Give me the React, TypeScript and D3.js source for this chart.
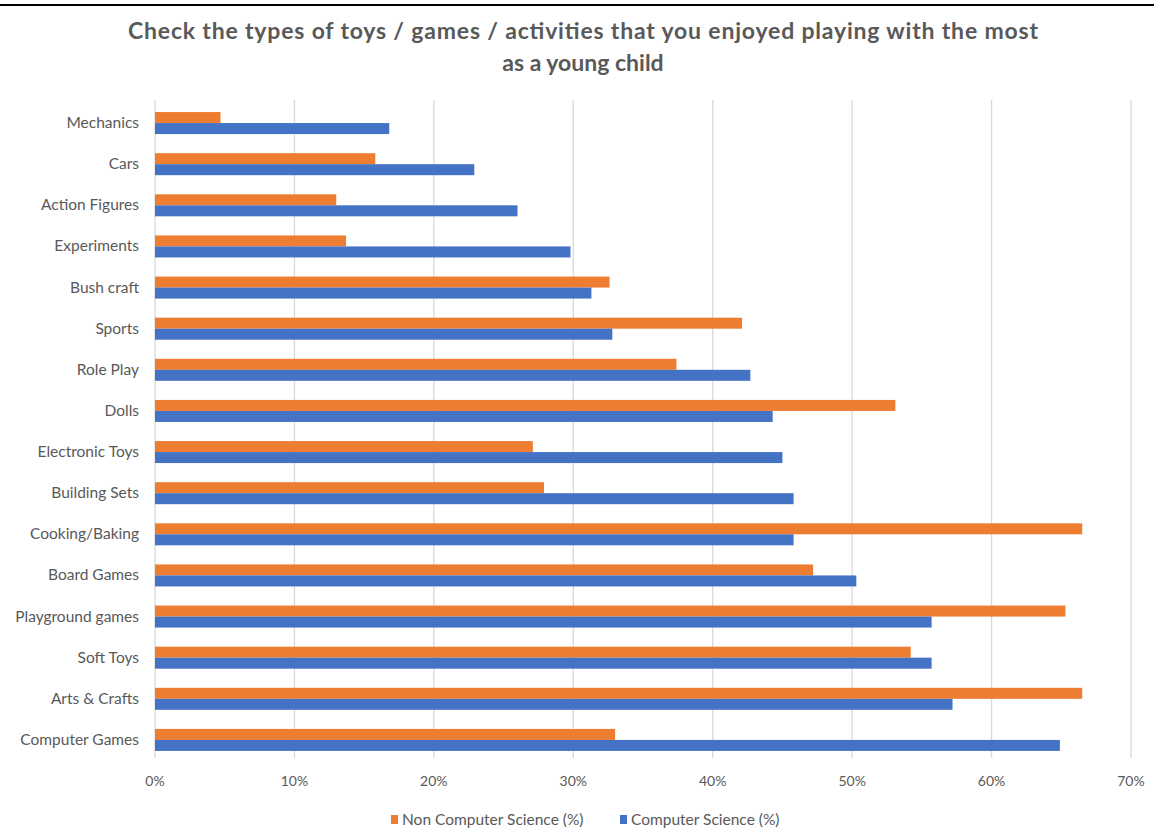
import React from "react";
import * as d3 from "d3";

const categories = [
  "Mechanics",
  "Cars",
  "Action Figures",
  "Experiments",
  "Bush craft",
  "Sports",
  "Role Play",
  "Dolls",
  "Electronic Toys",
  "Building Sets",
  "Cooking/Baking",
  "Board Games",
  "Playground games",
  "Soft Toys",
  "Arts & Crafts",
  "Computer Games",
];
const nonCS = [4.7, 15.8, 13.0, 13.7, 32.6, 42.1, 37.4, 53.1, 27.1, 27.9, 66.5, 47.2, 65.3, 54.2, 66.5, 33.0];
const cs = [16.8, 22.9, 26.0, 29.8, 31.3, 32.8, 42.7, 44.3, 45.0, 45.8, 45.8, 50.3, 55.7, 55.7, 57.2, 64.9];
const xTicks = [0, 10, 20, 30, 40, 50, 60, 70];
const seriesNames = ["Non Computer Science (%)", "Computer Science (%)"];
const colors = ["#ED7D31", "#4472C4"];
const titleLines = [
  "Check the types of toys / games / activities that you enjoyed playing with the most",
  "as a young child",
];

export default function App() {
  const W = 1154;
  const H = 828;
  const left = 155;
  const right = 1131;
  const top = 102.5;
  const bottom = 760.5;
  const x = d3.scaleLinear().domain([0, 70]).range([left, right]);
  const y = d3.scaleBand().domain(categories).range([top, bottom]);
  const barH = 11;
  const font = "Lato, 'Open Sans', sans-serif";
  const textColor = "#595959";

  return (
    <svg
      width={W}
      height={H}
      style={{ position: "absolute", left: 0, top: 0, background: "#fff" }}
      fontFamily={font}
    >
      <rect x={0} y={0} width={W} height={H} fill="#fff" />
      <line x1={0} x2={W} y1={5} y2={5} stroke="#000" strokeWidth={2} />
      <text
        x={583}
        y={39}
        textAnchor="middle"
        fontSize={23}
        fontWeight="bold"
        fill={textColor}
        textLength={910}
        lengthAdjust="spacing"
      >
        {titleLines[0]}
      </text>
      <text
        x={583}
        y={71}
        textAnchor="middle"
        fontSize={23}
        fontWeight="bold"
        fill={textColor}
      >
        {titleLines[1]}
      </text>
      {xTicks.map((t) => (
        <g key={t}>
          <line
            x1={x(t)}
            x2={x(t)}
            y1={100}
            y2={758}
            stroke="#d9d9d9"
            strokeWidth={1.3}
          />
          <text
            x={x(t)}
            y={786}
            textAnchor="middle"
            fontSize={14}
            fill={textColor}
          >
            {t}%
          </text>
        </g>
      ))}
      {categories.map((c, i) => {
        const cy = (y(c) as number) + y.bandwidth() / 2;
        return (
          <g key={c}>
            <rect
              x={x(0)}
              y={cy - barH}
              width={x(nonCS[i]) - x(0)}
              height={barH}
              fill={colors[0]}
            />
            <rect
              x={x(0)}
              y={cy}
              width={x(cs[i]) - x(0)}
              height={barH}
              fill={colors[1]}
            />
            <text
              x={139}
              y={cy + 5}
              textAnchor="end"
              fontSize={15.5}
              fill={textColor}
            >
              {c}
            </text>
          </g>
        );
      })}
      {seriesNames.map((s, i) => {
        const lx = i === 0 ? 391 : 620;
        return (
          <g key={s}>
            <rect x={lx} y={815} width={7} height={9} fill={colors[i]} />
            <text x={lx + 11} y={825} fontSize={15.5} fill={textColor}>
              {s}
            </text>
          </g>
        );
      })}
    </svg>
  );
}
